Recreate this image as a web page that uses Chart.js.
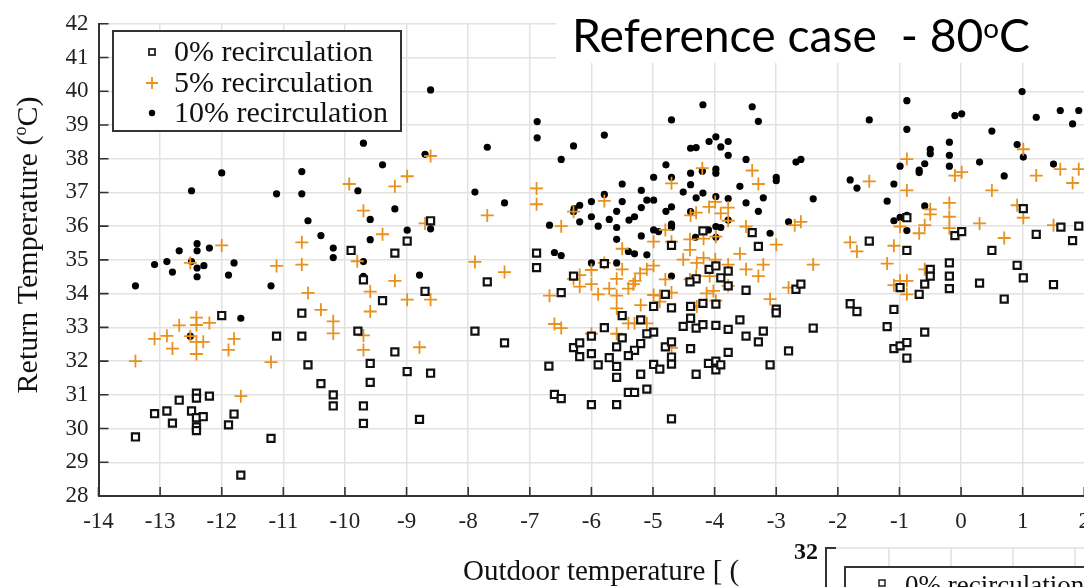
<!DOCTYPE html>
<html>
<head>
<meta charset="utf-8">
<script src="https://cdn.jsdelivr.net/npm/chart.js@4.4.1/dist/chart.umd.min.js"></script>
<style>
  html, body { margin: 0; padding: 0; background: #fff; }
  #wrap { width: 1084px; height: 587px; overflow: hidden; position: relative; }
</style>
</head>
<body>
<div id="wrap"><canvas id="chart" width="1120" height="587"></canvas></div>
<script>
// axis ranges
const xMin = -14, xMax = 2;
const yMin = 28, yMax = 42;

const seriesNames = ['0% recirculation', '5% recirculation', '10% recirculation'];

// [outdoor temp, return temp]
const rec0 = [
  [-13.40,29.75],[-13.09,30.44],[-12.89,30.52],[-12.80,30.16],[-12.69,30.84],[-12.49,30.52],[-12.41,31.05],[-12.41,30.90],
  [-12.41,30.32],[-12.41,30.05],[-12.41,29.94],[-12.30,30.35],[-12.20,30.96],[-11.89,30.11],[-11.80,30.43],[-11.69,28.62],
  [-12.00,33.35],[-11.20,29.71],[-11.11,32.74],[-10.70,33.42],[-10.70,32.74],[-10.60,31.89],[-10.39,31.33],[-10.19,31.00],
  [-10.19,30.67],
  [-8.61,36.16],[-9.90,35.28],[-8.99,35.56],[-9.19,35.20],[-9.70,34.41],[-8.70,34.07],[-9.39,33.79],[-7.69,34.35],
  [-6.89,35.20],[-6.89,34.77],[-6.49,34.03],[-9.79,32.89],[-9.19,32.27],[-9.59,31.93],[-8.99,31.69],[-8.61,31.64],
  [-9.59,31.37],[-9.70,30.67],[-9.70,30.15],[-8.79,30.27],[-7.89,32.89],[-7.41,32.54],[-6.69,31.85],[-6.60,31.01],
  [-6.49,30.89],
  [-6.29,34.52],[-5.79,34.89],[-4.70,35.43],[-4.19,35.86],[-4.09,34.72],[-3.98,34.82],[-4.30,34.44],[-4.40,34.35],
  [-4.80,33.98],[-4.99,33.62],[-4.70,33.58],[-4.39,33.62],[-4.19,33.71],[-5.50,33.35],[-5.20,33.22],[-4.39,33.27],
  [-4.51,33.03],[-4.30,32.98],[-4.19,33.08],[-3.98,33.06],[-5.79,32.99],[-6.00,32.74],[-5.50,32.69],[-4.99,32.86],
  [-5.10,32.81],[-5.20,32.52],[-6.29,32.40],[-6.19,32.54],[-6.19,32.13],[-6.00,32.22],[-5.59,32.42],[-5.30,32.32],
  [-5.40,32.16],[-4.80,32.42],[-4.70,32.57],[-4.39,32.37],[-5.71,32.10],[-5.89,31.89],[-5.59,31.84],[-4.70,32.12],
  [-4.70,31.91],[-4.99,31.90],[-4.89,31.76],[-4.10,31.93],[-3.98,32.00],[-3.98,31.74],[-3.90,31.89],[-4.30,31.61],
  [-5.59,31.52],[-5.20,31.61],[-5.40,31.07],[-5.30,31.07],[-5.10,31.17],[-6.00,30.71],[-5.59,30.71],[-4.70,30.29],
  [-3.39,35.81],[-3.29,35.40],[-1.49,35.56],[-3.78,34.67],[-3.90,34.47],[-3.78,34.23],[-3.49,34.10],[-2.68,34.13],
  [-2.60,34.28],[-3.98,33.69],[-3.00,33.54],[-3.00,33.43],[-1.80,33.70],[-1.69,33.47],[-3.78,32.94],[-3.59,33.22],
  [-3.49,32.74],[-3.29,32.57],[-3.21,32.89],[-2.40,32.98],[-3.78,32.26],[-2.80,32.30],[-3.10,31.89],
  [1.01,36.52],[1.62,35.97],[1.91,36.00],[1.81,35.57],[1.22,35.76],[-0.10,35.72],[0.01,35.84],[-0.88,36.25],
  [0.50,35.28],[-0.88,35.28],[-0.19,34.91],[0.91,34.84],[-0.50,34.72],[-0.50,34.52],[-0.19,34.52],[1.01,34.47],
  [-0.59,34.28],[0.30,34.31],[1.50,34.27],[-0.19,34.15],[-0.99,34.18],[-0.68,33.98],[0.70,33.84],
  [-1.09,33.53],[-1.20,33.02],[-0.59,32.86],[-1.09,32.37],[-0.99,32.45],[-0.88,32.55],[-0.88,32.09]
];

const rec5 = [
  [-13.40,32.00],[-13.09,32.66],[-12.89,32.75],[-12.80,32.37],[-12.69,33.06],[-12.51,32.74],[-12.51,34.91],[-12.41,33.29],
  [-12.41,33.07],[-12.41,32.57],[-12.41,32.21],[-12.30,32.57],[-12.20,33.13],[-12.00,35.43],[-11.89,32.33],[-11.80,32.66],
  [-11.69,30.96],[-11.20,31.97],[-11.11,34.82],[-10.70,35.52],[-10.70,34.86],[-10.60,34.02],[-10.39,33.52],[-10.19,33.18],
  [-10.19,32.82],[-9.93,37.25],
  [-8.61,38.08],[-9.19,37.18],[-8.99,37.48],[-9.70,36.46],[-9.39,35.76],[-8.70,36.08],[-9.80,34.96],[-9.19,34.38],
  [-9.59,34.06],[-8.99,33.82],[-8.61,33.82],[-6.89,37.12],[-6.89,36.65],[-7.69,36.32],[-6.49,36.00],[-7.89,34.94],
  [-7.41,34.64],[-6.68,33.94],[-6.29,36.43],[-9.59,33.47],[-9.70,32.76],[-9.70,32.33],[-8.79,32.41],[-6.60,33.10],
  [-6.49,32.98],
  [-5.79,36.75],[-4.70,37.27],[-4.20,37.72],[-4.39,36.32],[-4.30,36.40],[-4.09,36.57],[-3.99,36.72],[-4.80,35.89],
  [-4.99,35.54],[-4.70,35.54],[-4.40,35.61],[-4.18,35.63],[-3.98,35.69],[-5.50,35.33],[-4.40,35.30],[-4.51,35.01],
  [-4.29,34.91],[-4.18,35.06],[-3.99,35.01],[-5.79,34.91],[-5.50,34.72],[-4.99,34.83],[-5.10,34.72],[-5.21,34.60],
  [-6.00,34.70],[-6.19,34.55],[-6.29,34.44],[-5.29,34.38],[-5.59,34.44],[-4.80,34.42],[-4.70,34.03],[-4.40,34.42],
  [-4.30,34.52],[-4.08,34.52],[-6.19,34.21],[-6.00,34.28],[-5.89,33.98],[-5.71,34.15],[-5.59,33.94],[-5.40,34.15],
  [-5.32,34.28],[-4.99,33.96],[-4.89,33.94],[-4.13,34.01],[-4.02,34.08],
  [-5.59,33.56],[-5.20,33.66],[-4.89,33.76],[-6.00,32.81],[-5.59,32.81],[-5.40,33.12],[-5.30,33.12],[-5.10,33.12],
  [-4.70,32.39],[-4.29,33.62],[-3.98,33.79],
  [-3.39,37.65],[-3.29,37.25],[-1.49,37.33],[-3.78,36.55],[-3.90,36.38],[-3.78,36.16],[-3.49,35.99],[-3.00,35.45],
  [-2.70,36.03],[-2.60,36.13],[-1.80,35.52],[-1.69,35.25],[-3.59,35.18],[-3.21,34.86],[-2.40,34.86],[-3.49,34.72],
  [-3.29,34.52],[-3.78,34.86],[-3.78,34.23],[-2.80,34.18],[-3.10,33.84],
  [-0.88,37.99],[-0.88,37.06],[1.01,38.28],[-0.10,37.50],[0.01,37.60],[1.22,37.50],[1.61,37.69],[1.91,37.69],
  [1.81,37.28],[0.50,37.06],[-0.19,36.69],[-0.50,36.50],[-0.50,36.35],[-0.19,36.28],[-0.19,35.94],[0.30,36.08],
  [0.91,36.62],[1.01,36.25],[1.50,36.03],[-0.59,36.03],[-0.68,35.79],[-0.99,35.99],[0.70,35.65],[-1.09,35.42],
  [-1.20,34.89],[-0.59,34.72],[-0.99,34.38],[-0.88,34.38],[-1.09,34.25],[-0.88,33.98]
];

const rec10 = [
  [-13.40,34.23],[-13.09,34.86],[-12.89,34.95],[-12.80,34.64],[-12.69,35.27],[-12.49,37.05],[-12.49,34.95],[-12.40,35.48],
  [-12.40,35.27],[-12.40,34.76],[-12.40,34.50],[-12.29,34.83],[-12.20,35.35],[-12.00,37.58],[-11.89,34.55],[-11.80,34.91],
  [-11.20,34.23],[-11.11,36.96],[-10.70,37.62],[-10.70,36.96],[-10.60,36.16],[-10.39,35.72],[-10.19,35.35],[-10.19,35.07],
  [-11.69,33.27],[-12.51,32.74],
  [-8.61,40.04],[-9.70,38.46],[-9.39,37.82],[-8.70,38.13],[-9.79,37.05],[-9.19,36.51],[-9.59,36.20],[-8.99,35.88],
  [-8.61,35.92],[-9.59,35.60],[-9.70,34.95],[-9.70,34.51],[-8.79,34.55],[-6.88,39.10],[-6.88,38.62],[-7.69,38.34],
  [-6.49,37.98],[-7.89,37.01],[-7.41,36.69],[-6.68,36.03],[-6.60,35.22],[-6.49,35.13],
  [-6.29,38.38],[-5.79,38.70],[-4.19,39.60],[-4.70,39.15],[-3.98,38.65],[-4.09,38.51],[-4.39,38.31],[-4.30,38.33],
  [-4.79,37.82],[-4.20,37.63],[-4.70,37.45],[-4.99,37.45],[-4.39,37.57],[-4.39,37.23],[-5.50,37.25],[-5.79,36.94],
  [-5.19,37.06],[-4.51,37.01],[-4.19,36.98],[-4.30,36.84],[-6.00,36.73],[-5.10,36.77],[-4.99,36.77],[-5.50,36.73],
  [-6.19,36.62],[-6.28,36.52],[-6.29,36.43],[-5.19,36.55],[-4.70,36.57],[-4.79,36.44],[-4.39,36.43],[-5.59,36.44],
  [-6.00,36.28],[-6.19,36.13],[-5.71,36.20],[-5.30,36.28],[-5.39,36.18],[-5.89,36.00],[-5.59,35.96],[-4.70,36.06],
  [-4.70,35.97],[-4.99,35.89],[-4.91,35.84],[-5.59,35.61],[-5.19,35.71],[-4.31,35.67],[-4.10,35.89],[-3.98,35.99],
  [-5.40,35.25],[-5.30,35.18],[-5.10,35.15],[-6.00,34.91],[-5.59,34.91],[-4.70,34.52],
  [-3.39,39.54],[-3.29,39.11],[-1.49,39.15],[-3.90,38.35],[-3.78,38.51],[-3.78,38.10],[-3.49,37.98],[-2.68,37.90],
  [-2.60,37.98],[-3.98,37.69],[-3.98,37.57],[-3.00,37.45],[-3.00,37.35],[-3.59,37.18],[-1.80,37.37],[-1.69,37.13],
  [-3.98,36.88],[-3.78,36.82],[-3.49,36.69],[-3.21,36.84],[-2.40,36.81],[-3.29,36.44],[-3.78,36.18],[-3.90,35.96],
  [-3.98,35.67],[-2.80,36.13],[-3.10,35.79],
  [0.99,39.99],[-0.88,39.72],[-0.10,39.28],[0.01,39.33],[1.22,39.23],[1.61,39.43],[1.91,39.43],[1.81,39.03],
  [-0.88,38.87],[0.50,38.82],[-0.19,38.49],[0.91,38.42],[1.01,38.05],[-0.50,38.28],[-0.50,38.15],[-0.19,38.10],
  [0.30,37.90],[-0.59,37.85],[-0.99,37.78],[-0.19,37.78],[1.50,37.84],[-0.68,37.66],[-0.68,37.59],[0.70,37.49],
  [-1.09,37.25],[-1.20,36.74],[-0.59,36.60],[-1.09,36.16],[-0.99,36.26],[-0.88,36.32],[-0.88,35.87]
];

const ORANGE = '#E8911E';
const SERIF = '"Liberation Serif", "Times New Roman", serif';

const toPts = arr => arr.map(p => ({ x: p[0], y: p[1] }));

// inward tick marks, legend, axis titles, title box and the cut-in inset
const decor = {
  id: 'decor',
  afterDraw(chart) {
    const ctx = chart.ctx;
    const xs = chart.scales.x, ys = chart.scales.y;
    const a = chart.chartArea;
    ctx.save();

    ctx.strokeStyle = '#333';
    ctx.lineWidth = 1.6;
    ctx.beginPath();
    xs.ticks.forEach(t => {
      const px = xs.getPixelForValue(t.value);
      ctx.moveTo(px, a.bottom); ctx.lineTo(px, a.bottom - 9);
    });
    ys.ticks.forEach(t => {
      const py = ys.getPixelForValue(t.value);
      ctx.moveTo(a.left, py); ctx.lineTo(a.left + 10, py);
    });
    ctx.stroke();

    // legend box
    ctx.fillStyle = '#fff';
    ctx.fillRect(113, 31, 288, 100);
    ctx.strokeStyle = '#333';
    ctx.lineWidth = 2;
    ctx.strokeRect(113, 31, 288, 100);
    const rows = [52, 83, 113];
    ctx.font = '30px ' + SERIF;
    ctx.textBaseline = 'middle';
    ctx.fillStyle = '#111';
    seriesNames.forEach((n, i) => ctx.fillText(n, 174, rows[i] + 1));
    // markers
    ctx.lineWidth = 1.8;
    ctx.strokeStyle = '#222';
    ctx.strokeRect(149, rows[0] - 3, 6, 6);
    ctx.strokeStyle = ORANGE;
    ctx.beginPath();
    ctx.moveTo(146, rows[1]); ctx.lineTo(158, rows[1]);
    ctx.moveTo(152, rows[1] - 6); ctx.lineTo(152, rows[1] + 6);
    ctx.stroke();
    ctx.fillStyle = '#000';
    ctx.beginPath(); ctx.arc(152, rows[2], 3.2, 0, Math.PI * 2); ctx.fill();

    // y title with superscript
    ctx.save();
    ctx.translate(27, 245);
    ctx.rotate(-Math.PI / 2);
    ctx.textBaseline = 'alphabetic';
    ctx.fillStyle = '#111';
    const f1 = '30px ' + SERIF, f2 = '18px ' + SERIF;
    ctx.font = f1;
    const wA = ctx.measureText('Return Temperature (').width;
    const wC = ctx.measureText('C)').width;
    ctx.font = f2;
    const wO = ctx.measureText('o').width;
    let x0 = -(wA + wO + wC) / 2;
    ctx.font = f1; ctx.fillText('Return Temperature (', x0, 10);
    ctx.font = f2; ctx.fillText('o', x0 + wA, -1);
    ctx.font = f1; ctx.fillText('C)', x0 + wA + wO, 10);
    ctx.restore();

    // x title, cut by the inset figure
    ctx.save();
    ctx.beginPath(); ctx.rect(0, 536, 741, 60); ctx.clip();
    ctx.font = '29px ' + SERIF;
    ctx.textBaseline = 'alphabetic';
    ctx.fillStyle = '#111';
    ctx.fillText('Outdoor temperature [ (', 463, 580);
    ctx.restore();

    // title box top right
    ctx.fillStyle = '#fff';
    ctx.fillRect(556, 0, 600, 63);
    const sans = '"Lato", "Open Sans", sans-serif';
    let fs = 48;
    const titleW = s => {
      ctx.font = s + 'px ' + sans;
      const w1 = ctx.measureText('Reference case  - 80').width;
      const w3 = ctx.measureText('C').width;
      ctx.font = (s * 0.6) + 'px ' + sans;
      return w1 + ctx.measureText('o').width + w3;
    };
    fs = fs * 458 / titleW(fs);
    ctx.fillStyle = '#000';
    ctx.textBaseline = 'alphabetic';
    ctx.font = fs + 'px ' + sans;
    const t1 = ctx.measureText('Reference case  - 80').width;
    ctx.fillText('Reference case  - 80', 572, 52);
    ctx.font = (fs * 0.6) + 'px ' + sans;
    const t2 = ctx.measureText('o').width;
    ctx.fillText('o', 572 + t1, 38);
    ctx.font = fs + 'px ' + sans;
    ctx.fillText('C', 572 + t1 + t2, 52);

    // inset of the neighbouring figure
    ctx.fillStyle = '#fff';
    ctx.fillRect(741, 538, 400, 60);
    ctx.strokeStyle = '#e0e0e0';
    ctx.lineWidth = 1.5;
    ctx.beginPath();
    ctx.moveTo(836, 548); ctx.lineTo(1120, 548);
    [889, 951, 1013, 1075].forEach(gx => { ctx.moveTo(gx, 548); ctx.lineTo(gx, 600); });
    ctx.stroke();
    ctx.strokeStyle = '#333';
    ctx.lineWidth = 2;
    ctx.beginPath();
    ctx.moveTo(826, 600); ctx.lineTo(826, 548); ctx.lineTo(836, 548);
    ctx.stroke();
    ctx.font = 'bold 24px ' + SERIF;
    ctx.textAlign = 'right';
    ctx.textBaseline = 'middle';
    ctx.fillStyle = '#111';
    ctx.fillText('32', 818, 553);
    ctx.textAlign = 'left';
    ctx.fillStyle = '#fff';
    ctx.fillRect(845, 567, 300, 60);
    ctx.strokeStyle = '#333';
    ctx.lineWidth = 2;
    ctx.strokeRect(845, 567, 300, 60);
    ctx.lineWidth = 1.5;
    ctx.strokeStyle = '#222';
    ctx.strokeRect(879, 580, 6, 6);
    ctx.font = '27px ' + SERIF;
    ctx.textBaseline = 'alphabetic';
    ctx.fillStyle = '#111';
    ctx.fillText('0% recirculation', 905, 594);

    ctx.restore();
  }
};

new Chart(document.getElementById('chart'), {
  type: 'scatter',
  data: {
    datasets: [
      {
        label: seriesNames[0],
        data: toPts(rec0),
        pointStyle: 'rect',
        pointRadius: 5,
        borderWidth: 2.2,
        borderColor: '#111',
        backgroundColor: '#fff'
      },
      {
        label: seriesNames[1],
        data: toPts(rec5),
        pointStyle: 'cross',
        pointRadius: 6.5,
        borderWidth: 1.8,
        borderColor: ORANGE,
        backgroundColor: ORANGE
      },
      {
        label: seriesNames[2],
        data: toPts(rec10),
        pointStyle: 'circle',
        pointRadius: 3.6,
        borderWidth: 0,
        borderColor: '#000',
        backgroundColor: '#000'
      }
    ]
  },
  options: {
    responsive: false,
    animation: false,
    devicePixelRatio: 1,
    layout: { padding: { top: 18, right: 35.7, left: 0, bottom: 0 } },
    plugins: { legend: { display: false }, tooltip: { enabled: false } },
    scales: {
      x: {
        type: 'linear',
        min: xMin, max: xMax,
        afterFit: s => { s.height = 91; },
        ticks: { stepSize: 1, padding: 12, color: '#222', font: { family: SERIF, size: 23 } },
        grid: { color: '#e2e2e2', lineWidth: 1.5, drawTicks: false },
        border: { color: '#333', width: 2 }
      },
      y: {
        type: 'linear',
        min: yMin, max: yMax,
        afterFit: s => { s.width = 98.5; },
        ticks: { stepSize: 1, padding: 10, color: '#222', font: { family: SERIF, size: 23 } },
        grid: { color: '#e2e2e2', lineWidth: 1.5, drawTicks: false },
        border: { color: '#333', width: 2 }
      }
    }
  },
  plugins: [decor]
});
</script>
</body>
</html>
